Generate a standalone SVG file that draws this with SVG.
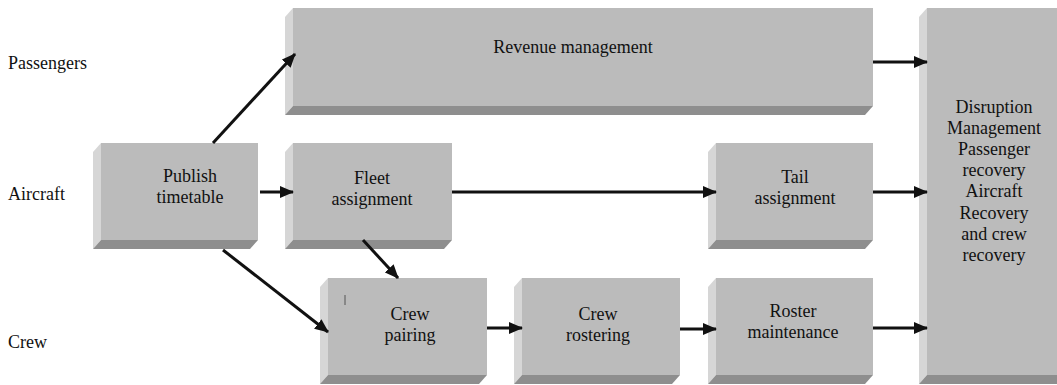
<svg xmlns="http://www.w3.org/2000/svg" width="1057" height="385" viewBox="0 0 1057 385">
<defs>
<marker id="ah" markerUnits="userSpaceOnUse" markerWidth="14" markerHeight="12" refX="13" refY="6" orient="auto">
<path d="M0,0 L14,6 L0,12 z" fill="#111"/>
</marker>
</defs>
<style>
.face{fill:#bbbbbb}
.side{fill:#d6d6d6}
.bot{fill:#8e8e8e}
.lbl{font-family:"Liberation Serif","Times New Roman",serif;font-size:18px;fill:#111}
.mid{text-anchor:middle}
.con{stroke:#111;stroke-width:3;fill:none;marker-end:url(#ah)}
</style>
<rect width="1057" height="385" fill="#ffffff"/>
<g id="row-labels">
<text class="lbl" x="8" y="69">Passengers</text>
<text class="lbl" x="8" y="200">Aircraft</text>
<text class="lbl" x="8" y="348">Crew</text>
</g>
<g id="publish">
<rect class="face" x="101" y="143" width="157" height="97"/>
<polygon class="side" points="101,143 101,240 93,249 93,152"/>
<polygon class="bot" points="101,240 258,240 250,249 93,249"/>
<text class="lbl mid" x="190" y="182">Publish</text>
<text class="lbl mid" x="190" y="203">timetable</text>
</g>
<g id="revenue">
<rect class="face" x="293" y="8" width="580" height="98"/>
<polygon class="side" points="293,8 293,106 285,115 285,17"/>
<polygon class="bot" points="293,106 873,106 865,115 285,115"/>
<text class="lbl mid" x="573" y="53">Revenue management</text>
</g>
<g id="fleet">
<rect class="face" x="293" y="143" width="159" height="97"/>
<polygon class="side" points="293,143 293,240 285,249 285,152"/>
<polygon class="bot" points="293,240 452,240 444,249 285,249"/>
<text class="lbl mid" x="372" y="184">Fleet</text>
<text class="lbl mid" x="372" y="205">assignment</text>
</g>
<g id="tail">
<rect class="face" x="716" y="143" width="157" height="97"/>
<polygon class="side" points="716,143 716,240 708,249 708,152"/>
<polygon class="bot" points="716,240 873,240 865,249 708,249"/>
<text class="lbl mid" x="795" y="183">Tail</text>
<text class="lbl mid" x="795" y="204">assignment</text>
</g>
<g id="crew-pairing">
<rect class="face" x="328" y="278" width="159" height="97"/>
<polygon class="side" points="328,278 328,375 320,384 320,287"/>
<polygon class="bot" points="328,375 487,375 479,384 320,384"/>
<line x1="345" y1="295" x2="345" y2="305" stroke="#555" stroke-width="1"/>
<text class="lbl mid" x="410" y="320">Crew</text>
<text class="lbl mid" x="410" y="341">pairing</text>
</g>
<g id="crew-rostering">
<rect class="face" x="522" y="278" width="158" height="97"/>
<polygon class="side" points="522,278 522,375 514,384 514,287"/>
<polygon class="bot" points="522,375 680,375 672,384 514,384"/>
<text class="lbl mid" x="598" y="320">Crew</text>
<text class="lbl mid" x="598" y="341">rostering</text>
</g>
<g id="roster">
<rect class="face" x="716" y="278" width="157" height="97"/>
<polygon class="side" points="716,278 716,375 708,384 708,287"/>
<polygon class="bot" points="716,375 873,375 865,384 708,384"/>
<text class="lbl mid" x="793" y="317">Roster</text>
<text class="lbl mid" x="793" y="338">maintenance</text>
</g>
<g id="disruption">
<rect class="face" x="927" y="8" width="140" height="367"/>
<polygon class="side" points="927,8 927,375 919,384 919,17"/>
<polygon class="bot" points="927,375 1067,375 1059,384 919,384"/>
<text class="lbl mid" x="994" y="113">Disruption</text>
<text class="lbl mid" x="994" y="134">Management</text>
<text class="lbl mid" x="994" y="155">Passenger</text>
<text class="lbl mid" x="994" y="176">recovery</text>
<text class="lbl mid" x="994" y="197">Aircraft</text>
<text class="lbl mid" x="994" y="219">Recovery</text>
<text class="lbl mid" x="994" y="240">and crew</text>
<text class="lbl mid" x="994" y="261">recovery</text>
</g>
<g id="connectors">
<line class="con" x1="213" y1="143" x2="295" y2="54"/>
<line class="con" x1="260" y1="192" x2="293" y2="192"/>
<line class="con" x1="452" y1="192" x2="716" y2="192"/>
<line class="con" x1="873" y1="62" x2="927" y2="62"/>
<line class="con" x1="873" y1="192" x2="927" y2="192"/>
<line class="con" x1="873" y1="328" x2="927" y2="328"/>
<line class="con" x1="223" y1="250" x2="328" y2="332"/>
<line class="con" x1="363" y1="240" x2="398" y2="278"/>
<line class="con" x1="487" y1="328" x2="522" y2="328"/>
<line class="con" x1="680" y1="329" x2="716" y2="329"/>
</g>
</svg>
